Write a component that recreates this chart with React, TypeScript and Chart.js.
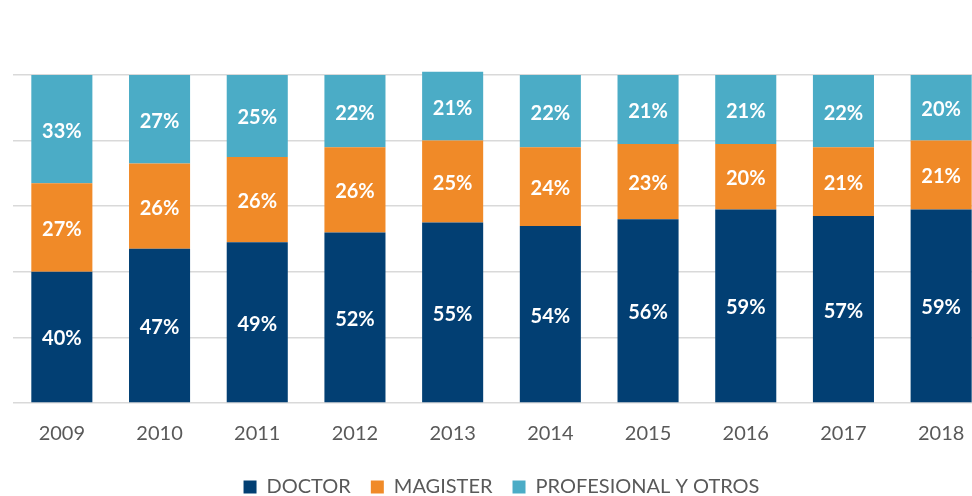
import React, { useEffect, useRef } from "react";
import { Chart, registerables } from "chart.js";

Chart.register(...registerables);

const years = ["2009", "2010", "2011", "2012", "2013", "2014", "2015", "2016", "2017", "2018"];
const doctor = [40, 47, 49, 52, 55, 54, 56, 59, 57, 59];
const magister = [27, 26, 26, 26, 25, 24, 23, 20, 21, 21];
const profesional = [33, 27, 25, 22, 21, 22, 21, 21, 22, 20];
const seriesNames = ["DOCTOR", "MAGISTER", "PROFESIONAL Y OTROS"];
const seriesColors = ["#023F73", "#F08A28", "#4BACC6"];

const FONT = "Lato, 'Open Sans', sans-serif";

const labelPlugin = {
  id: "barLabels",
  afterDatasetsDraw(chart: any) {
    const ctx = chart.ctx;
    ctx.save();
    ctx.fillStyle = "#ffffff";
    ctx.font = `bold 20px ${FONT}`;
    ctx.textAlign = "center";
    ctx.textBaseline = "middle";
    chart.data.datasets.forEach((ds: any, di: number) => {
      const meta = chart.getDatasetMeta(di);
      meta.data.forEach((el: any, i: number) => {
        const v = ds.data[i];
        const y = (el.y + el.base) / 2 + 2;
        ctx.fillText(`${v}%`, el.x, y);
      });
    });
    ctx.restore();
  },
};

export default function App() {
  const ref = useRef<HTMLCanvasElement | null>(null);
  useEffect(() => {
    if (!ref.current) return;
    const data = [doctor, magister, profesional];
    const chart = new Chart(ref.current, {
      type: "bar",
      data: {
        labels: years,
        datasets: data.map((d, i) => ({
          label: seriesNames[i],
          data: d,
          backgroundColor: seriesColors[i],
          borderWidth: 0,
          clip: false as any,
          barPercentage: 0.625,
          categoryPercentage: 1,
        })),
      },
      options: {
        responsive: false,
        animation: false,
        maintainAspectRatio: false,
        layout: { padding: { left: 13, right: 0, top: 75, bottom: 3 } },
        plugins: {
          tooltip: { enabled: false },
          legend: {
            position: "bottom",
            labels: {
              boxWidth: 13,
              boxHeight: 13,
              padding: 20,
              color: "#595959",
              font: { family: FONT, size: 20 },
            },
          },
        },
        scales: {
          x: {
            stacked: true,
            grid: { display: false },
            border: { display: false },
            ticks: { color: "#595959", font: { family: FONT, size: 20 }, padding: 11 },
          },
          y: {
            stacked: true,
            min: 0,
            max: 100,
            grid: { color: "#D9D9D9", lineWidth: 1.5, drawTicks: false },
            border: { display: false },
            ticks: { display: false, stepSize: 20 },
          },
        },
      },
      plugins: [labelPlugin],
    });
    return () => chart.destroy();
  }, []);
  return (
    <div style={{ position: "fixed", left: 0, top: 0, width: 972, height: 496, overflow: "hidden", background: "#fff" }}>
      <canvas ref={ref} width={990} height={510} style={{ display: "block" }} />
    </div>
  );
}
